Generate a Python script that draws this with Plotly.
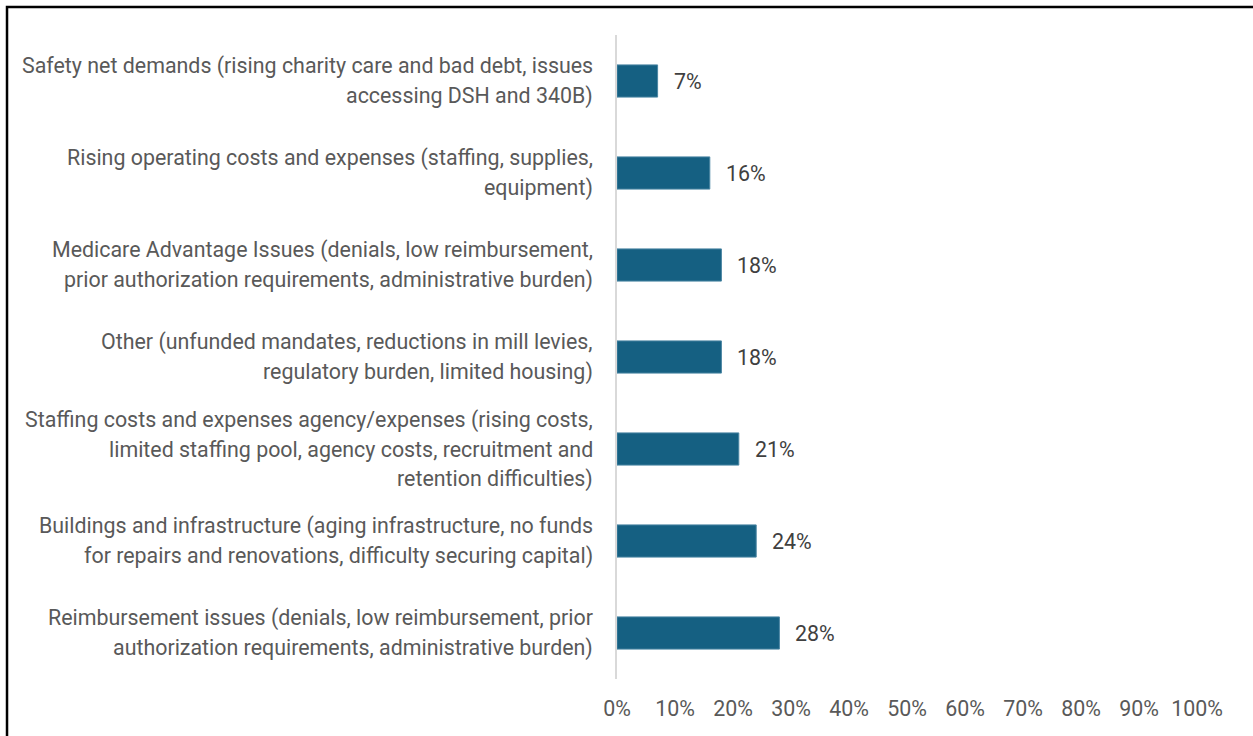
import plotly.graph_objects as go

# Survey responses, listed top to bottom
categories = [
    "Safety net demands (rising charity care and bad debt, issues<br>accessing DSH and 340B)",
    "Rising operating costs and expenses (staffing, supplies,<br>equipment)",
    "Medicare Advantage Issues (denials, low reimbursement,<br>prior authorization requirements, administrative burden)",
    "Other (unfunded mandates, reductions in mill levies,<br>regulatory burden, limited housing)",
    "Staffing costs and expenses agency/expenses (rising costs,<br>limited staffing pool, agency costs, recruitment and<br>retention difficulties)",
    "Buildings and infrastructure (aging infrastructure, no funds<br>for repairs and renovations, difficulty securing capital)",
    "Reimbursement issues (denials, low reimbursement, prior<br>authorization requirements, administrative burden)",
]
shares = [0.07, 0.16, 0.18, 0.18, 0.21, 0.24, 0.28]
tick_values = [0, 0.1, 0.2, 0.3, 0.4, 0.5, 0.6, 0.7, 0.8, 0.9, 1.0]
tick_labels = ["0%", "10%", "20%", "30%", "40%", "50%", "60%", "70%", "80%", "90%", "100%"]

BAR_COLOR = "#156082"
FONT = "Roboto"
FS = 21.4
keys = [f"c{i}" for i in range(len(categories))]

fig = go.Figure(
    go.Bar(
        x=shares,
        y=keys,
        orientation="h",
        marker=dict(color=BAR_COLOR, line=dict(color="#4a86a3", width=1)),
        hoverinfo="skip",
    )
)

annotations = []
# value labels just past each bar end
for k, v in zip(keys, shares):
    annotations.append(dict(
        x=v, y=k, xref="x", yref="y", text=f"{round(v * 100)}%",
        showarrow=False, xanchor="left", xshift=14,
        font=dict(family=FONT, size=FS, color="#404040"),
    ))
# category labels, one line at a time for Excel-like line spacing
LINE_H = 29.5
for k, label in zip(keys, categories):
    lines = label.split("<br>")
    n = len(lines)
    for j, line in enumerate(lines):
        annotations.append(dict(
            x=0, y=k, xref="paper", yref="y", text=line,
            showarrow=False, xanchor="right", yanchor="middle",
            xshift=-22, yshift=((n - 1) / 2 - j) * LINE_H,
            font=dict(family=FONT, size=FS, color="#595959"),
        ))

fig.update_layout(
    width=1253,
    height=736,
    margin=dict(l=617, r=56, t=35, b=57),
    paper_bgcolor="white",
    plot_bgcolor="white",
    bargap=0.65,
    showlegend=False,
    annotations=annotations,
    shapes=[dict(
        type="rect", xref="paper", yref="paper",
        x0=-1.0517, x1=1.2, y0=-0.2, y1=1.0435,
        line=dict(color="black", width=2.5), fillcolor="rgba(0,0,0,0)",
        layer="below",
    )],
    xaxis=dict(
        range=[0, 1],
        tickvals=tick_values,
        ticktext=tick_labels,
        showgrid=False,
        zeroline=False,
        showline=False,
        ticks="",
        ticklabelstandoff=15,
        tickfont=dict(family=FONT, size=FS, color="#595959"),
        fixedrange=True,
    ),
    yaxis=dict(
        autorange="reversed",
        showticklabels=False,
        showgrid=False,
        zeroline=False,
        showline=True,
        linecolor="#d9d9d9",
        linewidth=2,
        ticks="",
        fixedrange=True,
    ),
)

fig.write_html("out.html", config={"displayModeBar": False})
